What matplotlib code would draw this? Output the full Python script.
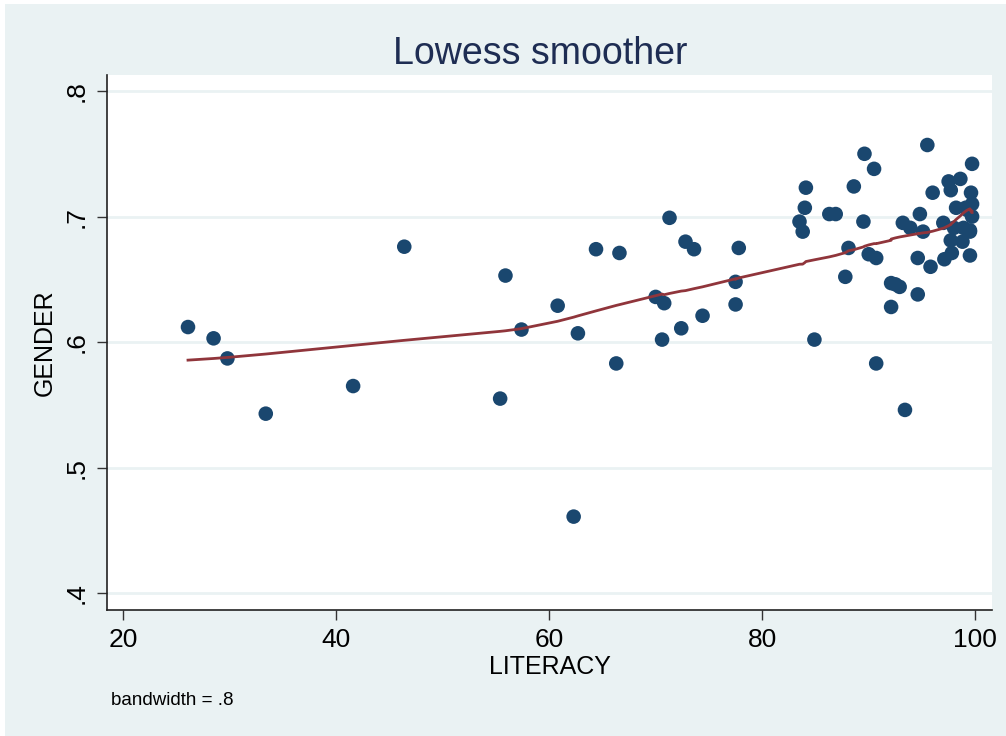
import numpy as np
import matplotlib
matplotlib.use("Agg")
import matplotlib.pyplot as plt
from matplotlib.patches import Rectangle

plt.rcParams['font.family'] = ['Liberation Sans', 'DejaVu Sans']

literacy = [26.1, 28.5, 29.8, 33.4, 41.6, 46.4, 55.4, 55.9, 57.4, 60.8, 62.7, 62.3,
            64.4, 66.3, 66.6, 70.0, 70.6, 70.8, 71.3, 72.4, 72.8, 73.6, 74.4, 77.5,
            77.5, 77.8, 83.5, 83.8, 84.0, 84.1, 84.9, 86.3, 86.9, 87.8, 88.1, 88.6,
            89.5, 89.6, 90.0, 90.5, 90.7, 90.7, 92.1, 92.1, 92.5, 92.9, 93.2, 93.4,
            93.9, 94.6, 94.6, 94.8, 95.1, 95.5, 95.8, 96.0, 97.0, 97.1, 97.5, 97.7,
            97.7, 97.8, 98.0, 98.2, 98.6, 98.8, 98.9, 99.1, 99.3, 99.5, 99.5, 99.5,
            99.6, 99.7, 99.7, 99.7]
gender = [0.612, 0.603, 0.587, 0.543, 0.565, 0.676, 0.555, 0.653, 0.610, 0.629, 0.607, 0.461,
          0.674, 0.583, 0.671, 0.636, 0.602, 0.631, 0.699, 0.611, 0.680, 0.674, 0.621, 0.648,
          0.630, 0.675, 0.696, 0.688, 0.707, 0.723, 0.602, 0.702, 0.702, 0.652, 0.675, 0.724,
          0.696, 0.750, 0.670, 0.738, 0.667, 0.583, 0.647, 0.628, 0.646, 0.644, 0.695, 0.546,
          0.691, 0.667, 0.638, 0.702, 0.688, 0.757, 0.660, 0.719, 0.695, 0.666, 0.728, 0.721,
          0.681, 0.671, 0.691, 0.707, 0.730, 0.680, 0.691, 0.707, 0.705, 0.689, 0.669, 0.688,
          0.719, 0.742, 0.710, 0.700]
bandwidth = 0.8
x_ticks = [20, 40, 60, 80, 100]
y_ticks = [0.4, 0.5, 0.6, 0.7, 0.8]
y_tick_labels = [".4", ".5", ".6", ".7", ".8"]


def stata_lowess(x, y, bw):
    order = np.argsort(x, kind="mergesort")
    xs = np.asarray(x, float)[order]
    ys = np.asarray(y, float)[order]
    n = len(xs)
    k = int(np.floor((n * bw - 0.5) / 2))
    fit = np.empty(n)
    for i in range(n):
        lo = max(0, i - k)
        hi = min(n - 1, i + k)
        xx = xs[lo:hi + 1]
        yy = ys[lo:hi + 1]
        delta = 1.0001 * max(xs[hi] - xs[i], xs[i] - xs[lo])
        w = (1 - (np.abs(xx - xs[i]) / delta) ** 3) ** 3
        sw = w.sum()
        xm = (w * xx).sum() / sw
        ym = (w * yy).sum() / sw
        sxx = (w * (xx - xm) ** 2).sum()
        b = (w * (xx - xm) * (yy - ym)).sum() / sxx if sxx > 0 else 0.0
        fit[i] = ym + b * (xs[i] - xm)
    return xs, fit


bg = "#EAF2F3"
fig = plt.figure(figsize=(10.06, 7.36), dpi=100, facecolor="white")
fig.patches.append(Rectangle((5 / 1006, 0), 1, 1 - 4 / 736, transform=fig.transFigure,
                             facecolor=bg, edgecolor="none", zorder=-10))
ax = fig.add_axes([0.1064, 0.171, 0.880, 0.727])
ax.set_facecolor("white")

for yt in y_ticks:
    ax.axhline(yt, color=bg, lw=2, zorder=0)

ax.scatter(literacy, gender, s=110, color="#1A476F", edgecolors="none", zorder=2)
lx, ly = stata_lowess(literacy, gender, bandwidth)
ax.plot(lx, ly, color="#90353B", lw=2, zorder=3)

ax.set_xlim(18.5, 101.6)
ax.set_ylim(0.3865, 0.8127)
ax.set_xticks(x_ticks)
ax.set_xticklabels([str(t) for t in x_ticks])
ax.set_yticks(y_ticks)
ax.set_yticklabels(y_tick_labels, rotation=90, va="center")

for s in ["top", "right"]:
    ax.spines[s].set_visible(False)
for s in ["left", "bottom"]:
    ax.spines[s].set_color("#222222")
    ax.spines[s].set_linewidth(1.2)

ax.tick_params(axis="both", direction="out", length=7, width=1, color="#333333",
               labelsize=19, labelcolor="black", pad=6)

ax.set_xlabel("LITERACY", fontsize=18, labelpad=2)
ax.set_ylabel("GENDER", fontsize=18, labelpad=6)
fig.text(540 / 1006, 1 - 64 / 736, "Lowess smoother", fontsize=27, color="#1E2D53",
         ha="center", va="baseline")
fig.text(111 / 1006, 1 - 705 / 736, "bandwidth = .8", fontsize=13.5, ha="left", va="baseline")

fig.savefig("out.png", dpi=100, facecolor="white")
